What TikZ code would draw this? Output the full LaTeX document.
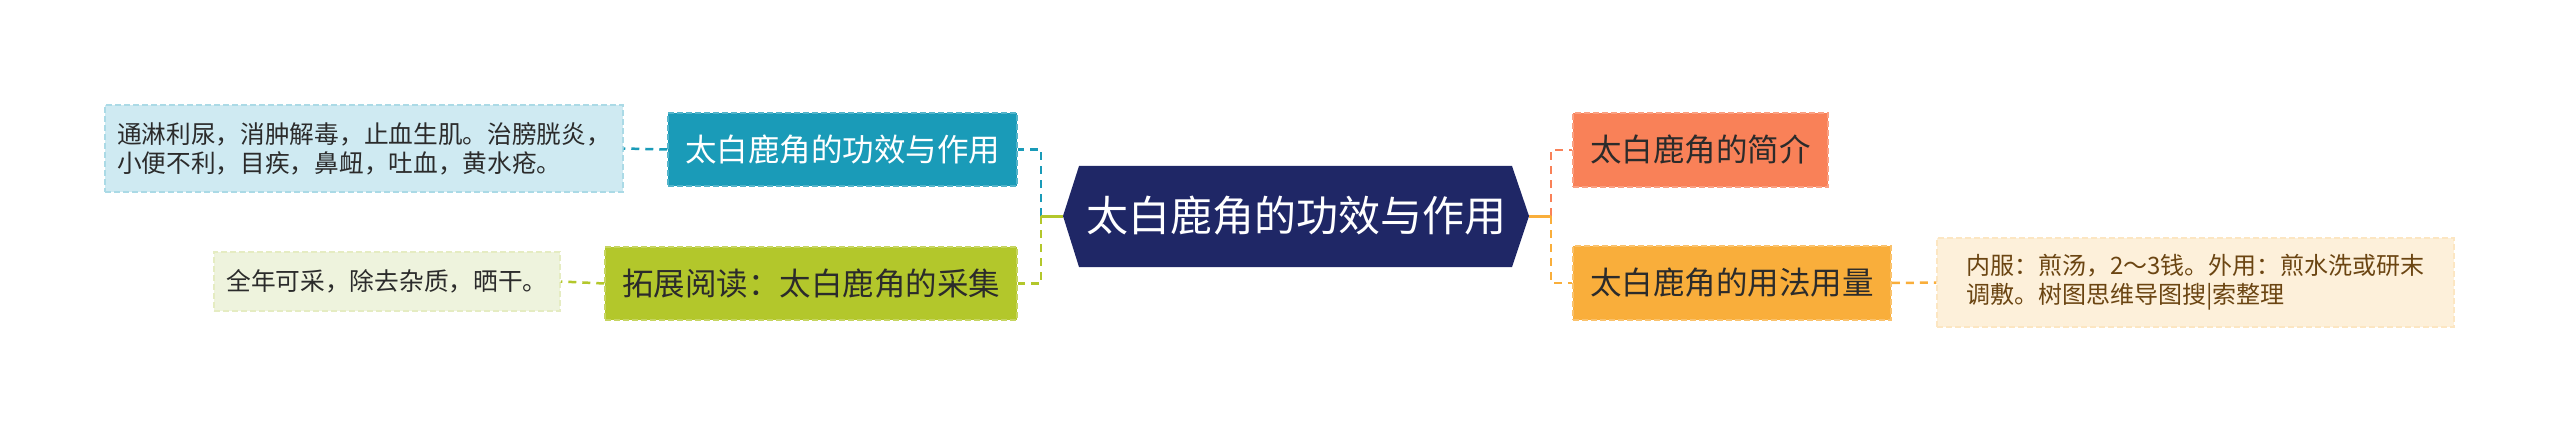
\documentclass[tikz,border=0pt]{standalone}
\usepackage{fontspec}
\setmainfont{Noto Sans CJK SC}
\definecolor{cnavy}{HTML}{1F2766}
\definecolor{cteal}{HTML}{1A9BB8}
\definecolor{cgreen}{HTML}{B3C72B}
\definecolor{ccoral}{HTML}{F98158}
\definecolor{corange}{HTML}{F9AE3B}
\definecolor{lblue}{HTML}{CFEAF2}
\definecolor{lgreen}{HTML}{EEF3DD}
\definecolor{lorange}{HTML}{FDF0DA}
\definecolor{tdark}{HTML}{2B2B2B}
\definecolor{tbrown}{HTML}{6B4512}
\tikzset{
  box/.style={rectangle, inner sep=0pt, line width=1.5pt, dash pattern=on 6pt off 3pt},
  mainbox/.style={box, font=\fontsize{31.5}{36}\selectfont},
  leafbox/.style={box, font=\fontsize{24.7}{29}\selectfont, align=left},
  conn/.style={line width=2.5pt, dash pattern=on 8pt off 6pt},
  stub/.style={line width=3pt},
}
\begin{document}
\begin{tikzpicture}[x=1pt,y=-1pt]
\useasboundingbox (0,0) rectangle (2560,433);
% center hexagon
\fill[cnavy] (1063,216) -- (1079,166) -- (1512,166) -- (1529,216) -- (1512,267) -- (1079,267) -- cycle;
\coordinate (hl) at (1063,216);
\coordinate (hr) at (1529,216);
\node[text=white, font=\fontsize{42}{46}\selectfont] (root) at (1296,216) {太白鹿角的功效与作用};
% left main nodes
\node[mainbox, fill=cteal, draw=cteal!75!white, text=white, minimum width=349, minimum height=73] (ltm) at (842.5,149.5) {太白鹿角的功效与作用};
\node[mainbox, fill=cgreen, draw=cgreen!75!white, text=tdark, minimum width=412, minimum height=73] (lbm) at (811,283.5) {拓展阅读：太白鹿角的采集};
% left leaves
\node[leafbox, fill=lblue, draw=lblue!80!cteal, text=tdark, minimum width=518, minimum height=87] (leaf1) at (364,148.5) {通淋利尿，消肿解毒，止血生肌。治膀胱炎，\\小便不利，目疾，鼻衄，吐血，黄水疮。};
\node[leafbox, fill=lgreen, draw=lgreen!85!cgreen, text=tdark, minimum width=346, minimum height=59] (leaf2) at (387,281.5) {全年可采，除去杂质，晒干。};
% right main nodes
\node[mainbox, fill=ccoral, draw=ccoral!75!white, text=tdark, minimum width=255, minimum height=74] (rtm) at (1700.5,150) {太白鹿角的简介};
\node[mainbox, fill=corange, draw=corange!75!white, text=tdark, minimum width=318, minimum height=74] (rbm) at (1732,283) {太白鹿角的用法用量};
% right leaf
\node[leafbox, font=\fontsize{24}{29}\selectfont, fill=lorange, draw=lorange!85!corange, text=tbrown, minimum width=517, minimum height=89] (leaf3) at (2195.5,282.5) {内服：煎汤，2～3钱。外用：煎水洗或研末\\调敷。树图思维导图搜|索整理};
% junctions
\coordinate (jl) at (1041,216);
\coordinate (jr) at (1551,216);
% connectors left
\draw[conn, cteal] (jl) |- (ltm.east);
\draw[conn, cgreen] (jl) |- (lbm.east);
\draw[stub, cgreen] (hl) -- (jl);
\draw[conn, cteal] (ltm.west) -- (leaf1.east);
\draw[conn, cgreen] (lbm.west) -- (leaf2.east);
% connectors right
\draw[conn, ccoral] (jr) |- (rtm.west);
\draw[conn, corange] (jr) |- (rbm.west);
\draw[stub, corange] (hr) -- (jr);
\draw[conn, corange] (rbm.east) -- (leaf3.west);
\end{tikzpicture}
\end{document}
